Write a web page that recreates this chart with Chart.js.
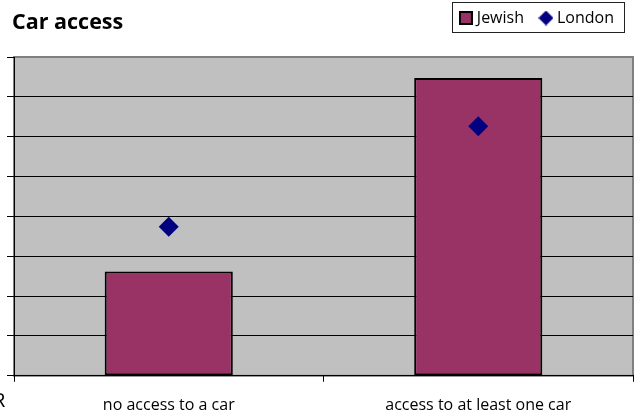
<!DOCTYPE html>
<html><head><meta charset="utf-8">
<script src="https://cdn.jsdelivr.net/npm/chart.js@4/dist/chart.umd.min.js"></script>
<style>
html,body{margin:0;padding:0;background:#fff;}
#wrap{position:relative;width:636px;height:414px;overflow:hidden;background:#fff;}
canvas{position:absolute;left:0;top:0;}
#title{position:absolute;left:12px;top:10px;font:bold 21.5px/21px "Open Sans";color:#000;white-space:nowrap;}
#cut{position:absolute;left:-7px;top:390px;font:20px/20px "Open Sans";color:#000;}
</style></head><body>
<div id="wrap"><canvas id="c" width="636" height="414"></canvas><div id="title">Car access</div><div id="cut">R</div></div>
<script>
// ---- data ----
const categories = ['no access to a car', 'access to at least one car'];
const seriesNames = ['Jewish', 'London'];
const jewishValues = [26.2, 74.7];
const londonValues = [37.4, 62.6];
const yMin = 0, yMax = 80, yStep = 10;

// ---- styles ----
const BAR_COLOR = '#993366';
const POINT_COLOR = '#000080';
const PLOT_BG = '#C0C0C0';
const FONT = 'Open Sans';

function makeSquare() {
  const c = document.createElement('canvas'); c.width = 14; c.height = 14;
  const x = c.getContext('2d');
  x.fillStyle = BAR_COLOR; x.fillRect(1, 1, 12, 12);
  x.strokeStyle = '#000'; x.lineWidth = 2; x.strokeRect(1, 1, 12, 12);
  return c;
}
function makeDiamond() {
  const c = document.createElement('canvas'); c.width = 15; c.height = 15;
  const x = c.getContext('2d');
  x.fillStyle = POINT_COLOR; x.beginPath();
  x.moveTo(7.5, 0); x.lineTo(15, 7.5); x.lineTo(7.5, 15); x.lineTo(0, 7.5); x.closePath(); x.fill();
  return c;
}
const markers = [makeSquare(), makeDiamond()];

const plotBg = {
  id: 'plotBg',
  beforeDraw(chart) {
    const {ctx, chartArea: a} = chart;
    ctx.save();
    ctx.fillStyle = PLOT_BG;
    ctx.fillRect(a.left, a.top, a.right - a.left, a.bottom - a.top);
    ctx.strokeStyle = '#808080'; ctx.lineWidth = 2;
    ctx.strokeRect(a.left, a.top, a.right - a.left, a.bottom - a.top);
    ctx.restore();
  }
};
const legendPatch = {
  id: 'legendPatch',
  beforeLayout(chart) {
    const lg = chart.legend;
    if (lg && !lg._patched) {
      const orig = lg.fit;
      lg.fit = function () { orig.call(this); this.height += 21; };
      lg._patched = true;
    }
  },
  afterDraw(chart) {
    const lg = chart.legend; if (!lg || !lg.legendHitBoxes) return;
    const hb = lg.legendHitBoxes; const f = hb[0], l = hb[hb.length - 1];
    const ctx = chart.ctx;
    ctx.save(); ctx.strokeStyle = '#222'; ctx.lineWidth = 1;
    const left = Math.round(f.left - 11) + 0.5, top = Math.round(f.top - 8) + 0.5;
    const right = Math.round(l.left + l.width + 10) + 0.5;
    ctx.strokeRect(left, top, right - left, 30);
    ctx.restore();
  }
};

new Chart(document.getElementById('c'), {
  type: 'bar',
  data: {
    labels: categories,
    datasets: [
      { type: 'bar', label: seriesNames[0], data: jewishValues, backgroundColor: BAR_COLOR, borderColor: '#000', borderWidth: 2, borderSkipped: false, categoryPercentage: 0.414, barPercentage: 1, order: 2 },
      { type: 'line', label: seriesNames[1], data: londonValues, showLine: false, pointStyle: 'rectRot', pointRadius: 10, pointHoverRadius: 10, pointBackgroundColor: POINT_COLOR, pointBorderColor: POINT_COLOR, pointBorderWidth: 0, backgroundColor: POINT_COLOR, borderColor: POINT_COLOR, order: 1, clip: false }
    ]
  },
  options: {
    responsive: false, animation: false, devicePixelRatio: 1,
    layout: { autoPadding: false, padding: { top: -9, left: 7, right: 3, bottom: -16 } },
    plugins: {
      tooltip: { enabled: false },
      title: { display: false },
      legend: {
        position: 'top', align: 'end',
        labels: {
          usePointStyle: true, boxWidth: 6, padding: 19, color: '#000',
          font: { family: FONT, size: 16 },
          generateLabels(chart) {
            return chart.data.datasets.map((ds, i) => ({
              text: ds.label, pointStyle: markers[i], fillStyle: ds.backgroundColor,
              strokeStyle: ds.borderColor, lineWidth: 0, hidden: false, datasetIndex: i, fontColor: '#000'
            }));
          }
        }
      }
    },
    scales: {
      x: {
        offset: true,
        grid: { display: true, offset: true, drawOnChartArea: false, drawTicks: true, tickLength: 6, color: '#000', tickColor: '#000' },
        border: { display: true, color: '#000', width: 1 },
        ticks: { color: '#000', font: { family: FONT, size: 16 }, padding: 14.5, maxRotation: 0, autoSkip: false }
      },
      y: {
        min: yMin, max: yMax,
        grid: { color: (c) => (c.tick && c.tick.value === yMax) ? 'rgba(0,0,0,0)' : '#000', tickColor: '#000', tickLength: 7, drawTicks: true },
        border: { display: true, color: '#000', width: 1 },
        ticks: { display: false, stepSize: yStep }
      }
    }
  },
  plugins: [plotBg, legendPatch]
});
</script>
</body></html>
